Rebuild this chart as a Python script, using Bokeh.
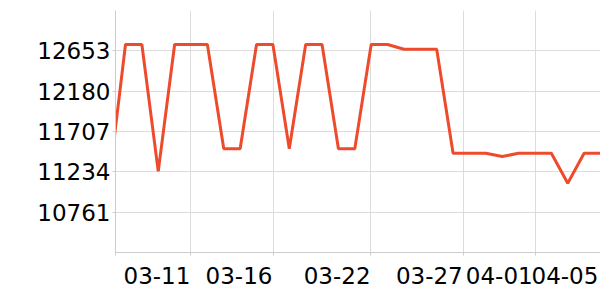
from bokeh.plotting import figure
from bokeh.models import FixedTicker, Range1d
from bokeh.embed import file_html
from bokeh.resources import INLINE

# data: one point per day (index -1 is partly outside the view)
day_index = list(range(-1, 30))
values = [11130,
          12727, 12727, 11240, 12727, 12727, 12727, 11505, 11505, 12727, 12727,
          11505, 12727, 12727, 11505, 11505, 12727, 12727, 12672, 12672, 12672,
          11452, 11452, 11452, 11413, 11452, 11452, 11452, 11100, 11452, 11452]

y_ticks = [10761, 11234, 11707, 12180, 12653]
x_label_pos = [1.92, 6.93, 12.92, 18.55, 22.82, 26.83]
x_labels = ["03-11", "03-16", "03-22", "03-27", "04-01", "04-05"]
x_grid_pos = [-0.61, 3.99, 9.01, 14.97, 20.65, 25.01]

FONT = "DejaVu Sans"
GRID = "#dcdcdc"
AXIS = "#cccccc"

p = figure(width=600, height=300, output_backend="svg", toolbar_location=None,
           x_range=Range1d(-0.61, 29.0), y_range=Range1d(10288, 13126),
           min_border_left=115, min_border_right=0, min_border_top=10,
           min_border_bottom=48)
p.outline_line_color = None
p.background_fill_color = "white"

p.line(day_index, values, line_color="#ee4a2c", line_width=3)

# y axis
p.yaxis.ticker = FixedTicker(ticks=y_ticks)
p.yaxis.axis_line_color = AXIS
p.yaxis.major_tick_line_color = AXIS
p.yaxis.major_tick_out = 3
p.yaxis.major_tick_in = 0
p.yaxis.minor_tick_line_color = None
p.yaxis.major_label_standoff = 2
p.yaxis.major_label_text_font = FONT
p.yaxis.major_label_text_font_size = "23px"
p.yaxis.major_label_text_color = "black"

# x axis
p.xaxis.ticker = FixedTicker(ticks=x_label_pos, minor_ticks=x_grid_pos)
p.xaxis.major_label_overrides = {pos: lab for pos, lab in zip(x_label_pos, x_labels)}
p.xaxis.axis_line_color = AXIS
p.xaxis.major_tick_line_color = None
p.xaxis.minor_tick_line_color = AXIS
p.xaxis.minor_tick_out = 3
p.xaxis.minor_tick_in = 0
p.xaxis.major_label_standoff = 8
p.xaxis.major_label_text_font = FONT
p.xaxis.major_label_text_font_size = "23px"
p.xaxis.major_label_text_color = "black"

p.xgrid.ticker = FixedTicker(ticks=x_grid_pos)
p.xgrid.grid_line_color = GRID
p.ygrid.grid_line_color = GRID

open("out.html", "w").write(file_html(p, INLINE))
